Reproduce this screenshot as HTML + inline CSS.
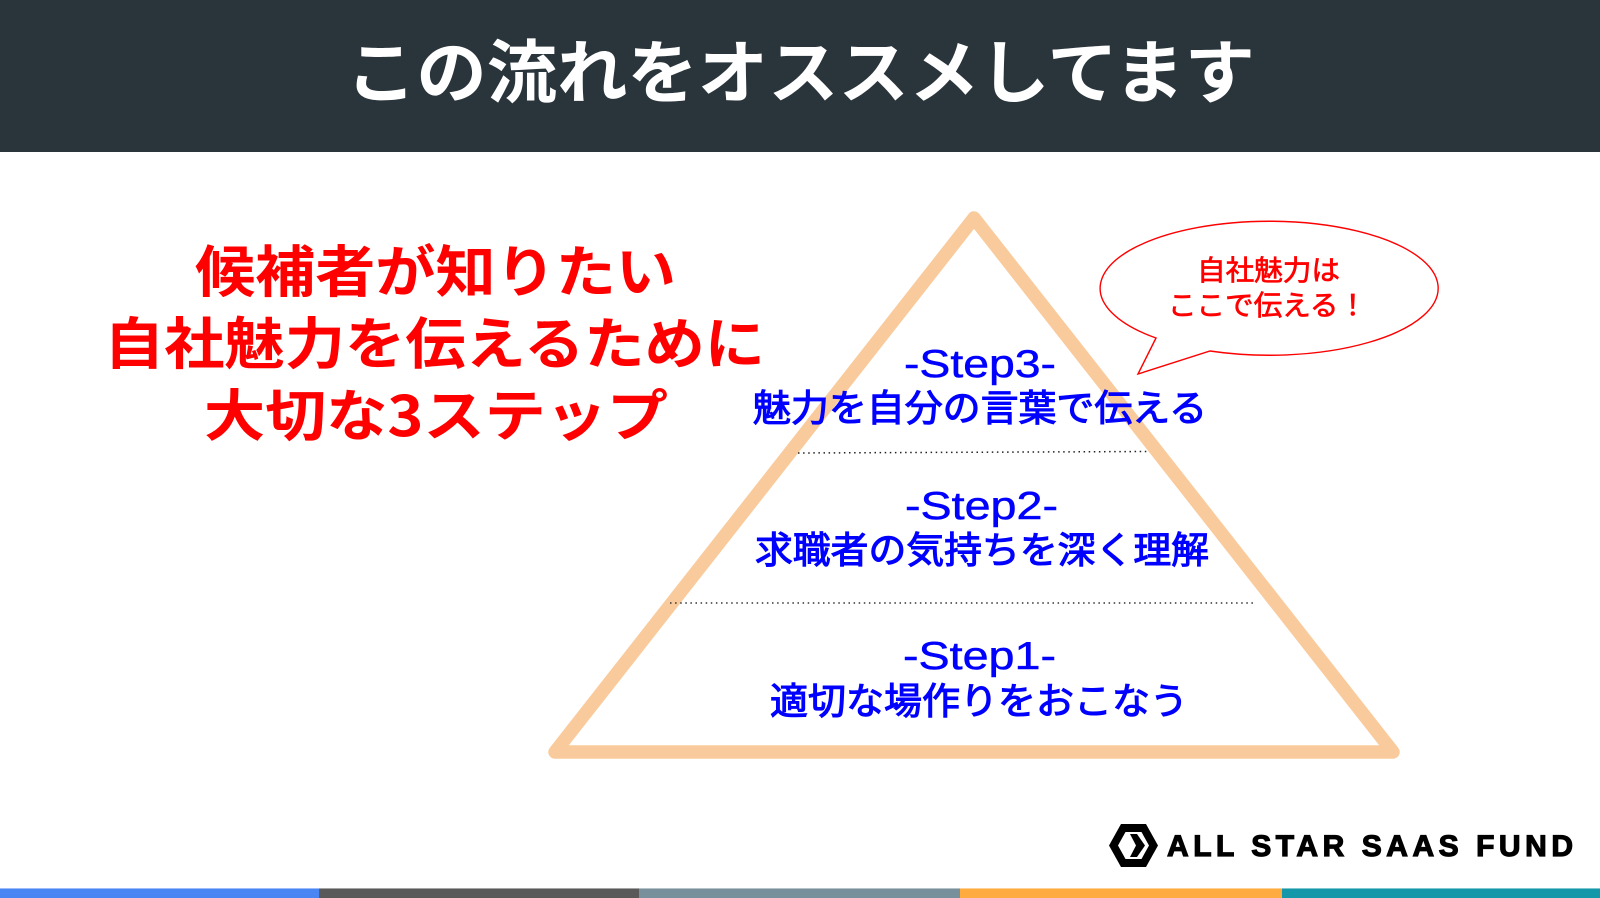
<!DOCTYPE html>
<html lang="ja"><head><meta charset="utf-8"><title>この流れをオススメしてます</title>
<style>
html,body{margin:0;padding:0;background:#fff;width:1600px;height:898px;overflow:hidden}
svg{display:block}
text{font-family:"Liberation Sans","Noto Sans CJK JP",sans-serif}
.j{font-family:"Noto Sans CJK JP","Liberation Sans",sans-serif;font-weight:700}
.r{font-family:"Noto Sans CJK JP","Liberation Sans",sans-serif;font-weight:400}
</style></head><body>
<svg width="1600" height="898" viewBox="0 0 1600 898" xmlns="http://www.w3.org/2000/svg">
<rect x="0" y="0" width="1600" height="152" fill="#29343b"/>
<text class="j" x="346" y="97" font-size="69" fill="#fff" textLength="909" lengthAdjust="spacingAndGlyphs">この流れをオススメしてます</text>

<text class="j" x="195" y="292" font-size="56" fill="#ff0000" textLength="481" lengthAdjust="spacingAndGlyphs">候補者が知りたい</text>
<text class="j" x="104" y="364" font-size="56" fill="#ff0000" textLength="661" lengthAdjust="spacingAndGlyphs">自社魅力を伝えるために</text>
<text class="j" x="204" y="436" font-size="56" fill="#ff0000" textLength="464" lengthAdjust="spacingAndGlyphs">大切な3ステップ</text>

<path d="M974 218 L1393 752 L555 752 Z" fill="none" stroke="#f9cb9c" stroke-width="13.5" stroke-linejoin="round"/>
<line x1="798" y1="453" x2="1148" y2="451.5" stroke="#222" stroke-width="1.5" stroke-dasharray="1.5 3.6"/>
<line x1="670" y1="603" x2="1256" y2="603" stroke="#333" stroke-width="1.5" stroke-dasharray="1.5 3.6"/>

<path d="M1156 338 L1138 374 L1210 351 A169 67 0 1 0 1156 338 Z" fill="#fff" stroke="#ff0000" stroke-width="1.4" stroke-linejoin="miter"/>
<text class="r" x="1197" y="280" font-size="28" fill="#ff0000" stroke="#ff0000" stroke-width=".7" textLength="143" lengthAdjust="spacingAndGlyphs">自社魅力は</text>
<text class="r" x="1168" y="315" font-size="28" fill="#ff0000" stroke="#ff0000" stroke-width=".7" textLength="199" lengthAdjust="spacingAndGlyphs">ここで伝える！</text>

<text x="904" y="377" font-size="39" font-weight="400" fill="#0000ff" stroke="#0000ff" stroke-width=".5" textLength="152" lengthAdjust="spacingAndGlyphs">-Step3-</text>
<text class="r" x="753" y="421" font-size="37" fill="#0000ff" stroke="#0000ff" stroke-width="1.1" textLength="454" lengthAdjust="spacingAndGlyphs">魅力を自分の言葉で伝える</text>
<text x="905" y="519" font-size="39" font-weight="400" fill="#0000ff" stroke="#0000ff" stroke-width=".5" textLength="153" lengthAdjust="spacingAndGlyphs">-Step2-</text>
<text class="r" x="755" y="563" font-size="37" fill="#0000ff" stroke="#0000ff" stroke-width="1.1" textLength="454" lengthAdjust="spacingAndGlyphs">求職者の気持ちを深く理解</text>
<text x="903" y="669" font-size="39" font-weight="400" fill="#0000ff" stroke="#0000ff" stroke-width=".5" textLength="153" lengthAdjust="spacingAndGlyphs">-Step1-</text>
<text class="r" x="770" y="714" font-size="37" fill="#0000ff" stroke="#0000ff" stroke-width="1.1" textLength="418" lengthAdjust="spacingAndGlyphs">適切な場作りをおこなう</text>

<polygon points="1109,845.5 1121,824 1146,824 1158,845.5 1146,867 1121,867" fill="#000"/>
<polygon points="1118,845.5 1125.5,832 1141.5,832 1149,845.5 1141.5,859 1125.5,859" fill="#fff"/>
<polygon points="1130,834 1137,834 1145,845.5 1137,857 1130,857 1136,845.5" fill="#000"/>
<text x="1167" y="856" font-size="30" font-weight="700" fill="#000" stroke="#000" stroke-width="1.2" textLength="406">ALL STAR SAAS FUND</text>

<rect x="0" y="888" width="319" height="10" fill="#4a86f3"/>
<rect x="319" y="888" width="320" height="10" fill="#595959"/>
<rect x="639" y="888" width="321" height="10" fill="#78909c"/>
<rect x="960" y="888" width="322" height="10" fill="#ffab40"/>
<rect x="1282" y="888" width="318" height="10" fill="#1497a9"/>
<rect x="0" y="888" width="1600" height="1" fill="#fff" opacity=".45"/>
</svg>
</body></html>
